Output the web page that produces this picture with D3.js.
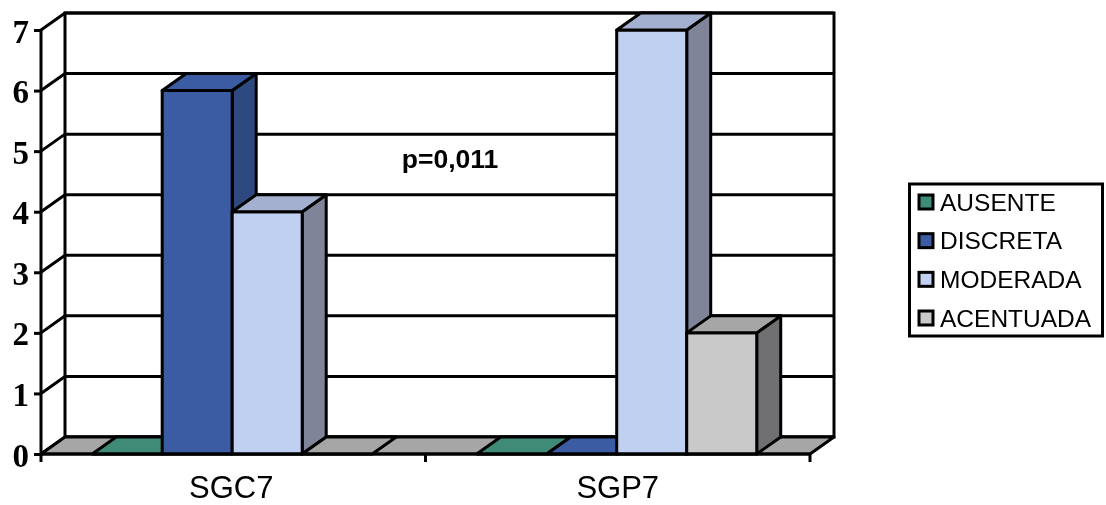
<!DOCTYPE html>
<html>
<head>
<meta charset="utf-8">
<script src="https://cdn.jsdelivr.net/npm/d3@7"></script>
<style>
    html, body { margin: 0; padding: 0; background: #fff; }
    svg { display: block; }
    text { fill: #000; }
    .yAxis text { font: bold 33px "Liberation Serif", serif; }
    .xAxis text { font: 31px "Liberation Sans", sans-serif; }
    .legend text { font: 24.5px "Liberation Sans", sans-serif; }
    .note { font: bold 26.5px "Liberation Sans", sans-serif; }
</style>
</head>
<body>
<div id="chart"></div>
<script>
const categories = ['SGC7', 'SGP7'];
const seriesNames = ['AUSENTE', 'DISCRETA', 'MODERADA', 'ACENTUADA'];
const ausente = [0, 0];
const discreta = [6, 0];
const moderada = [4, 7];
const acentuada = [0, 2];
const yTicks = [0, 1, 2, 3, 4, 5, 6, 7];
const note = 'p=0,011';

const seriesValues = [ausente, discreta, moderada, acentuada];
const frontColors = ['#3f8a78', '#3a5ba3', '#c0d0f0', '#c9c9c9'];
const sideColors = ['#2f6a5c', '#2f4a80', '#7f8499', '#6f6f72'];
const topColors = ['#3f8a78', '#3a5ba3', '#a4b0d0', '#a6a6a6'];
const floorColor = '#a6a6a6';

const width = 1106;
const height = 505;
const depthX = 24;
const depthY = -17;
const lineWidth = 3;

const svg = d3.select('#chart').append('svg')
    .attr('width', width)
    .attr('height', height);

// the reference is a scan, a slight blur softens the edges the same way
svg.append('filter')
    .attr('id', 'scan')
    .attr('x', 0)
    .attr('y', 0)
    .attr('width', 1)
    .attr('height', 1)
    .attr('filterUnits', 'objectBoundingBox')
    .append('feGaussianBlur')
    .attr('stdDeviation', 0.5);

const root = svg.append('g').attr('filter', 'url(#scan)');
root.append('rect')
    .attr('width', width)
    .attr('height', height)
    .attr('fill', '#fff');

const xScale = d3.scaleBand()
    .domain(categories)
    .range([41, 810]);

const barScale = d3.scaleBand()
    .domain(seriesNames)
    .range([0, xScale.bandwidth()])
    .paddingOuter(0.746)
    .align(0.49);

const yScale = d3.scaleLinear()
    .domain([0, 7])
    .range([454, 30]);

const [xLeft, xRight] = xScale.range();
const y0 = yScale(0);
const yTop = yScale(7);

function poly(points) {
    return d3.line()(points) + 'Z';
}

function quad(x1, x2, y) {
    return poly([[x1, y], [x2, y], [x2 + depthX, y + depthY], [x1 + depthX, y + depthY]]);
}

// back wall and left wall
root.append('rect')
    .attr('x', xLeft + depthX)
    .attr('y', yTop + depthY)
    .attr('width', xRight - xLeft)
    .attr('height', y0 - yTop)
    .attr('fill', '#fff')
    .attr('stroke', '#000')
    .attr('stroke-width', lineWidth);

root.append('g').attr('class', 'grid')
    .selectAll('path')
    .data(yTicks)
    .join('path')
    .attr('d', d => d3.line()([
        [xLeft, yScale(d)],
        [xLeft + depthX, yScale(d) + depthY],
        [xRight + depthX, yScale(d) + depthY]
    ]))
    .attr('fill', 'none')
    .attr('stroke', '#000')
    .attr('stroke-width', lineWidth);

// floor
root.append('path')
    .attr('d', quad(xLeft, xRight, y0))
    .attr('fill', floorColor)
    .attr('stroke', '#000')
    .attr('stroke-width', lineWidth)
    .attr('stroke-linejoin', 'round');

const bars = [];
categories.forEach((c, ci) => {
    seriesNames.forEach((s, si) => {
        bars.push({category: c, series: s, si: si, value: seriesValues[si][ci]});
    });
});

const barGroups = root.append('g').attr('class', 'bars')
    .selectAll('g')
    .data(bars)
    .join('g')
    .attr('stroke', '#000')
    .attr('stroke-width', lineWidth)
    .attr('stroke-linejoin', 'round');

barGroups.each(function (d) {
    const g = d3.select(this);
    const x1 = xScale(d.category) + barScale(d.series);
    const x2 = x1 + barScale.bandwidth();
    const y = yScale(d.value);
    if (d.value > 0) {
        g.append('path')
            .attr('d', poly([[x2, y0], [x2 + depthX, y0 + depthY], [x2 + depthX, y + depthY], [x2, y]]))
            .attr('fill', sideColors[d.si]);
        g.append('rect')
            .attr('x', x1)
            .attr('y', y)
            .attr('width', x2 - x1)
            .attr('height', y0 - y)
            .attr('fill', frontColors[d.si]);
    }
    g.append('path')
        .attr('d', quad(x1, x2, y))
        .attr('fill', topColors[d.si]);
});

// axes
const yAxis = d3.axisLeft(yScale)
    .tickValues(yTicks)
    .tickFormat(d3.format('d'))
    .tickSize(7)
    .tickPadding(5);

const yAxisG = root.append('g')
    .attr('class', 'yAxis')
    .attr('transform', `translate(${xLeft},0)`)
    .call(yAxis);
yAxisG.selectAll('line, path')
    .attr('stroke', '#000')
    .attr('stroke-width', lineWidth);
yAxisG.select('.domain').attr('d', `M0,${yTop}V${y0}`);
yAxisG.selectAll('text').attr('dy', '12').attr('fill', '#000');

const xAxis = d3.axisBottom(xScale)
    .tickSize(0)
    .tickPadding(22);

const xAxisG = root.append('g')
    .attr('class', 'xAxis')
    .attr('transform', `translate(0,${y0})`)
    .call(xAxis);
xAxisG.select('.domain')
    .attr('d', `M${xLeft},0H${xRight}`)
    .attr('stroke', '#000')
    .attr('stroke-width', lineWidth);
xAxisG.selectAll('text').attr('fill', '#000');
xAxisG.selectAll('.tick text').attr('dx', (d, i) => i === 0 ? -2 : 0);

const boundaries = [xLeft, xScale(categories[1]), xRight];
xAxisG.selectAll('.boundary')
    .data(boundaries)
    .join('line')
    .attr('class', 'boundary')
    .attr('x1', d => d)
    .attr('x2', d => d)
    .attr('y1', 0)
    .attr('y2', 8)
    .attr('stroke', '#000')
    .attr('stroke-width', lineWidth);

// annotation
root.append('text')
    .attr('class', 'note')
    .attr('x', 450)
    .attr('y', 168)
    .attr('text-anchor', 'middle')
    .text(note);

// legend
const legend = root.append('g').attr('class', 'legend');
legend.append('rect')
    .attr('x', 909.5)
    .attr('y', 184)
    .attr('width', 193)
    .attr('height', 152)
    .attr('fill', '#fff')
    .attr('stroke', '#000')
    .attr('stroke-width', lineWidth);

const legendY = d3.scalePoint()
    .domain(seriesNames)
    .range([202, 318]);

const legendItems = legend.selectAll('g')
    .data(seriesNames)
    .join('g')
    .attr('transform', d => `translate(919,${legendY(d)})`);

legendItems.append('rect')
    .attr('x', 0)
    .attr('y', -7)
    .attr('width', 14)
    .attr('height', 14)
    .attr('fill', (d, i) => frontColors[i])
    .attr('stroke', '#000')
    .attr('stroke-width', lineWidth);

legendItems.append('text')
    .attr('x', 21)
    .attr('y', 8.5)
    .text(d => d);
</script>
</body>
</html>
